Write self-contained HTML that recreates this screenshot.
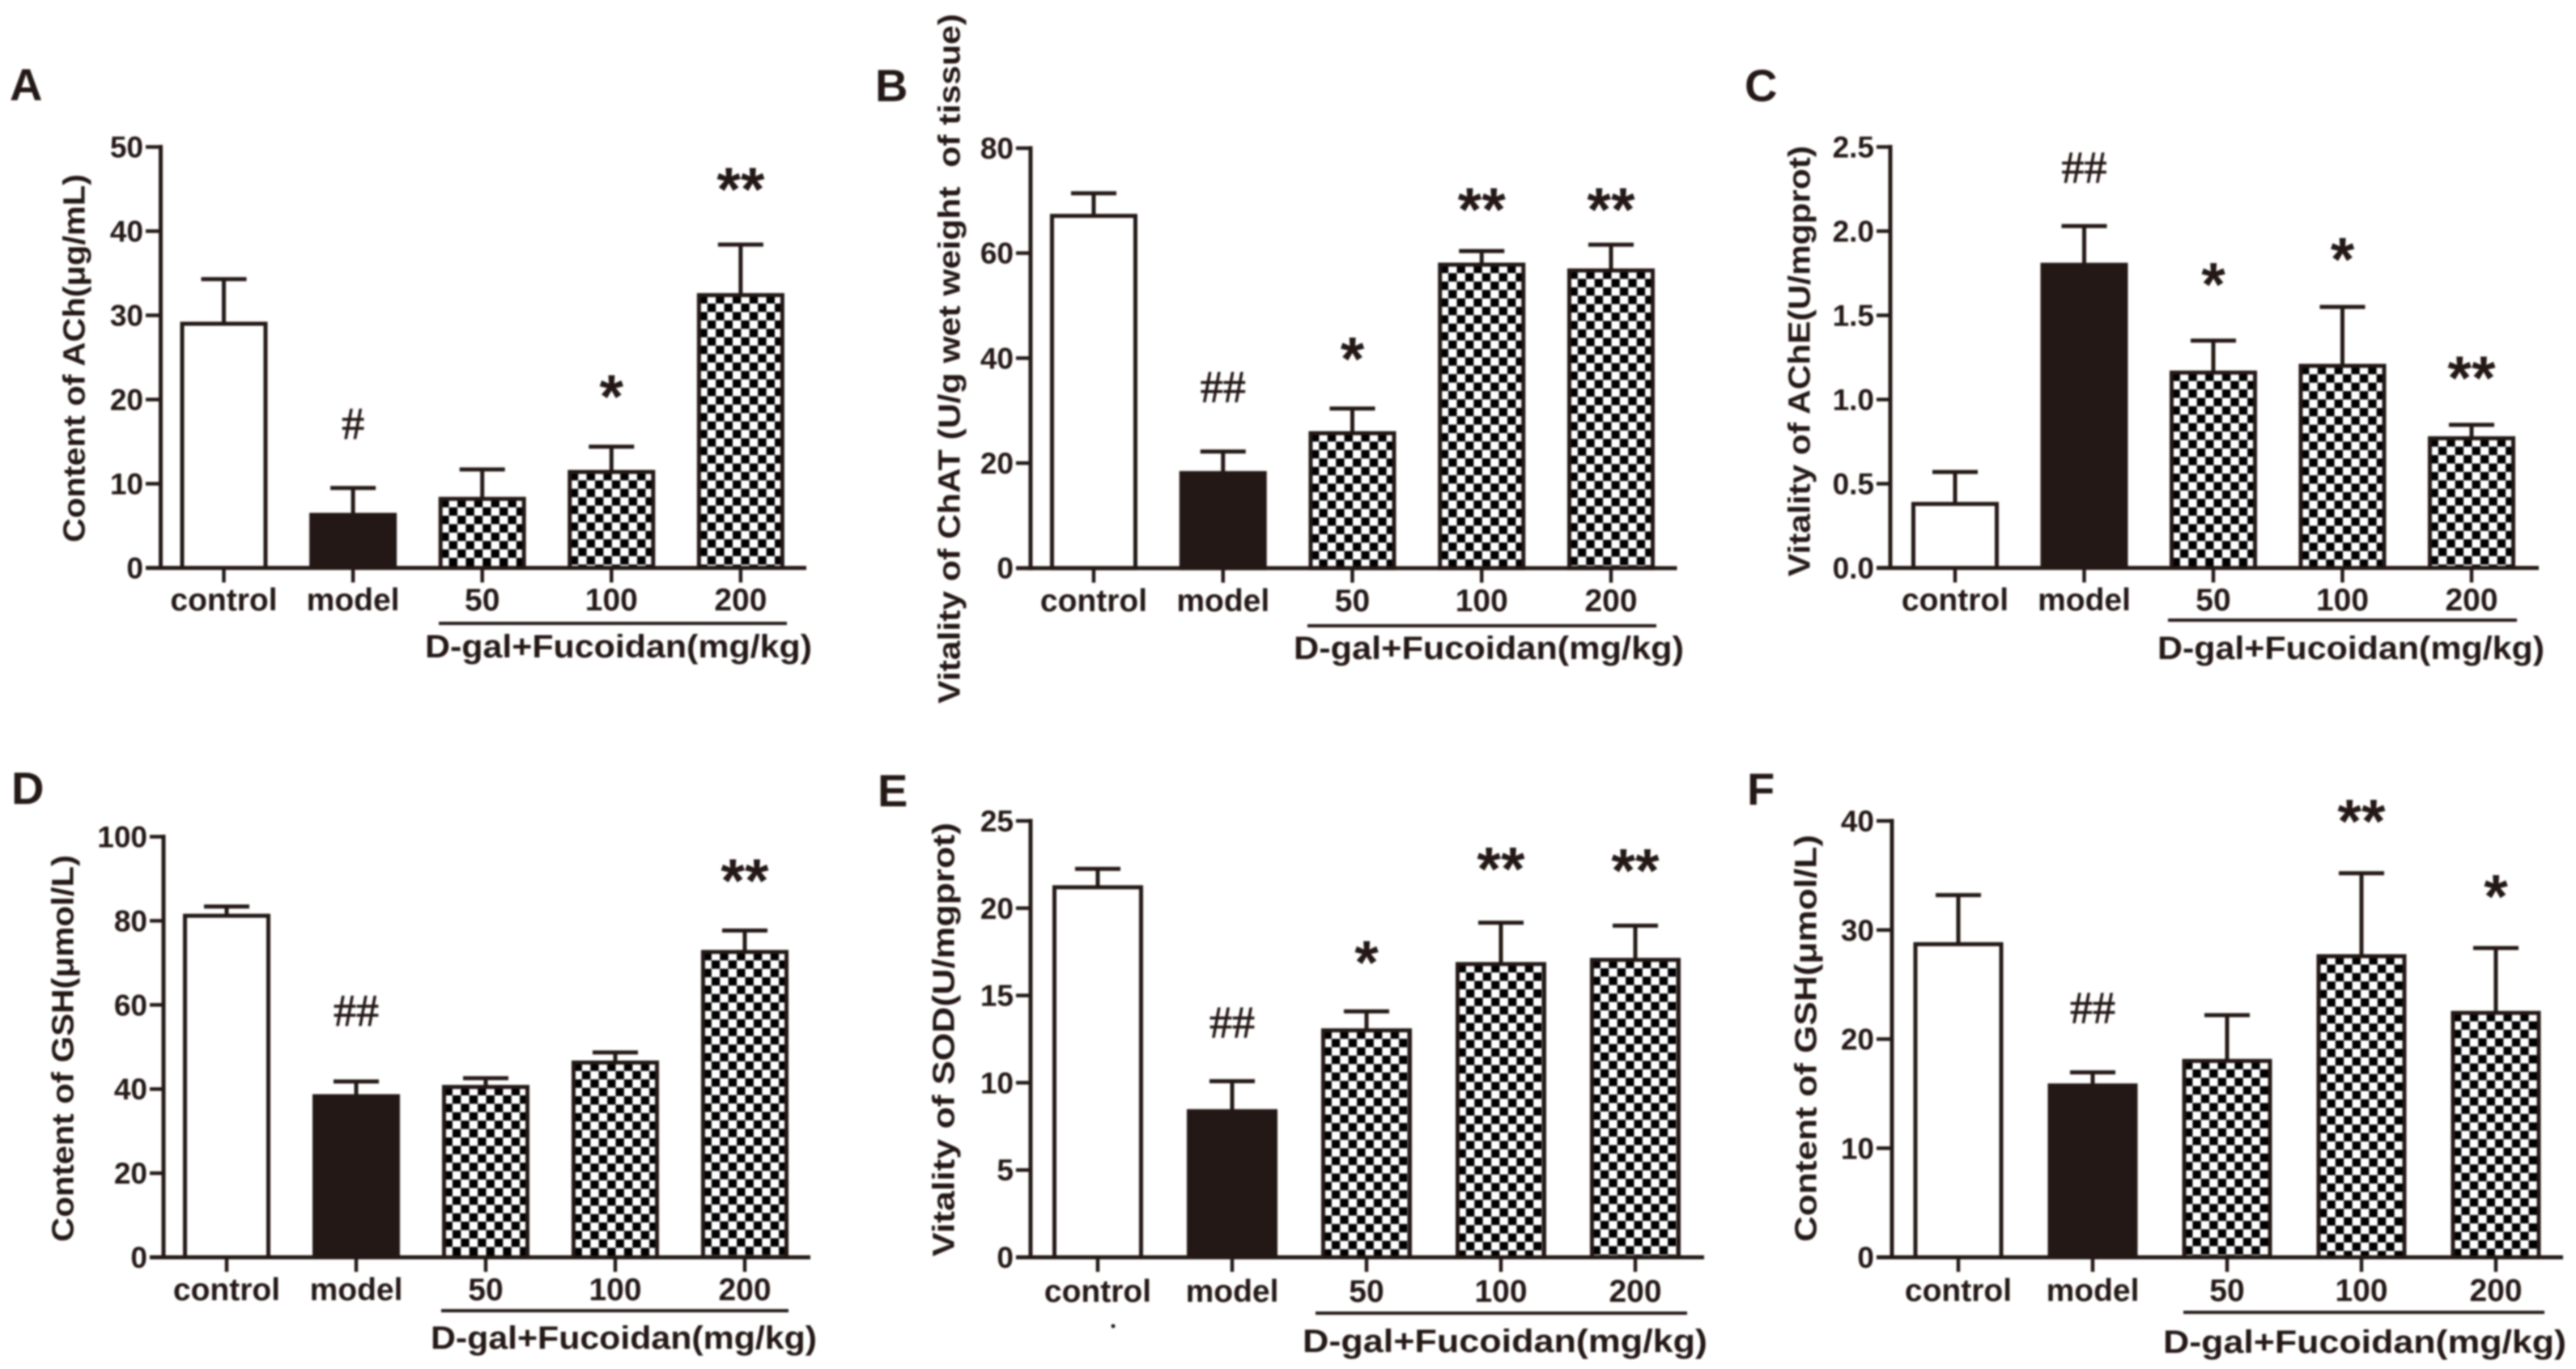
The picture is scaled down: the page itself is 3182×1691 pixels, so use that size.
<!DOCTYPE html>
<html lang="en">
<head>
<meta charset="utf-8">
<title>Fucoidan bar charts</title>
<style>
html,body{margin:0;padding:0;background:#fff;}
svg{display:block;filter:blur(1px);}
text{font-family:"Liberation Sans",Arial,sans-serif;font-weight:bold;fill:#231815;white-space:pre;}
.sym{font-family:"Liberation Serif",serif;font-weight:normal;stroke:#231815;stroke-width:0.8px;}
</style>
</head>
<body>
<svg id="figure" xmlns="http://www.w3.org/2000/svg" width="3182" height="1691" viewBox="0 0 3182 1691">
<rect x="0" y="0" width="3182" height="1691" fill="#ffffff"/>
<defs id="defs"></defs>
<circle cx="1375" cy="1638" r="2.5" fill="#231815"/>
</svg>
<script>
// ---- shared categories ----
const categories = ["control", "model", "50", "100", "200"];
const groupLabel = "D-gal+Fucoidan(mg/kg)";

// ---- panel A ----
const aTicks = ["0", "10", "20", "30", "40", "50"];
const aMeans = [29, 6.3, 8.2, 11.4, 32.4];
const aUppers = [34.3, 9.5, 11.7, 14.4, 38.4];
const aSig = ["", "#", "", "*", "**"];
const aSigLevels = [0, 16.8, 0, 21.3, 45.9];

// ---- panel B ----
const bTicks = ["0", "20", "40", "60", "80"];
const bMeans = [67.1, 18.1, 25.7, 57.8, 56.7];
const bUppers = [71.4, 22.2, 30.4, 60.4, 61.6];
const bSig = ["", "##", "*", "**", "**"];
const bSigLevels = [0, 34, 41.4, 69.8, 69.8];

// ---- panel C ----
const cTicks = ["0.0", "0.5", "1.0", "1.5", "2.0", "2.5"];
const cMeans = [0.38, 1.8, 1.16, 1.2, 0.77];
const cUppers = [0.57, 2.03, 1.35, 1.55, 0.85];
const cSig = ["", "##", "*", "*", "**"];
const cSigLevels = [0, 2.36, 1.73, 1.88, 1.175];

// ---- panel D ----
const dTicks = ["0", "20", "40", "60", "80", "100"];
const dMeans = [81.2, 38.3, 40.5, 46.3, 72.6];
const dUppers = [83.4, 41.8, 42.6, 48.7, 77.7];
const dSig = ["", "##", "", "", "**"];
const dSigLevels = [0, 57.9, 0, 0, 91.4];

// ---- panel E ----
const eTicks = ["0", "5", "10", "15", "20", "25"];
const eMeans = [21.2, 8.37, 13, 16.8, 17.04];
const eUppers = [22.25, 10.09, 14.09, 19.17, 19];
const eSig = ["", "##", "*", "**", "**"];
const eSigLevels = [0, 13.3, 17.35, 22.7, 22.6];

// ---- panel F ----
const fTicks = ["0", "10", "20", "30", "40"];
const fMeans = [28.7, 15.75, 18, 27.6, 22.4];
const fUppers = [33.2, 16.95, 22.2, 35.2, 28.35];
const fSig = ["", "##", "", "**", "*"];
const fSigLevels = [0, 22.6, 0, 40.7, 33.8];

const INK = "#231815";
const NS = "http://www.w3.org/2000/svg";
const svg = document.getElementById("figure");
const defs = document.getElementById("defs");

function make(tag, attrs, parent, txt) {
  const node = document.createElementNS(NS, tag);
  for (const k in attrs) node.setAttribute(k, attrs[k]);
  if (txt !== undefined) node.textContent = txt;
  parent.appendChild(node);
  return node;
}

function drawPanel(key, layout, ticks, means, uppers, sig, sigLevels, titleText) {
  const yMax = parseFloat(ticks[ticks.length - 1]);
  const yPos = function (v) { return layout.y0 - (v / yMax) * (layout.y0 - layout.yTop); };
  const xPos = function (i) { return layout.first + i * layout.step; };

  const g = make("g", {}, svg);
  
  

  let el = make("text", { x: layout.letterX, y: layout.letterY, "font-size": 56 }, g, key.toUpperCase());
  
  

  const tMid = (layout.titleTop + layout.titleBottom) / 2;
  el = make("text", {
    x: 0, y: 0, "font-size": 38, "text-anchor": "middle", dy: ".35em",
    textLength: layout.titleBottom - layout.titleTop, lengthAdjust: "spacingAndGlyphs",
    transform: "translate(" + layout.titleX + " " + tMid + ") rotate(-90)"
  }, g, titleText);
  
  

  categories.forEach(function (cat, i) {
    const cx = xPos(i);
    const left = cx - layout.barW / 2 + 2.5;
    const w = layout.barW - 5;
    const top = yPos(means[i]);
    const capY = yPos(uppers[i]);

    el = make("line", { x1: cx, x2: cx, y1: top, y2: capY, stroke: INK, "stroke-width": 5 }, g);
    
    

    el = make("line", { x1: cx - 28, x2: cx + 28, y1: capY, y2: capY, stroke: INK, "stroke-width": 5 }, g);
    
    

    let fill = "#ffffff";
    if (i === 1) fill = INK;
    if (i > 1) {
      const pid = "chk-" + key + "-" + i;
      const p = make("pattern", { id: pid, patternUnits: "userSpaceOnUse", x: left, y: top, width: 20.8, height: 20.8 }, defs);
      make("rect", { x: 0, y: 0, width: 20.8, height: 20.8, fill: "#ffffff" }, p);
      make("rect", { x: 0, y: 0, width: 10.4, height: 10.4, fill: "#000000" }, p);
      make("rect", { x: 10.4, y: 10.4, width: 10.4, height: 10.4, fill: "#000000" }, p);
      fill = "url(#" + pid + ")";
    }
    el = make("rect", { x: left, y: top, width: w, height: layout.y0 - top, fill: fill, stroke: INK, "stroke-width": 5 }, g);
    
    

    el = make("line", { x1: cx, x2: cx, y1: layout.y0, y2: layout.y0 + 18, stroke: INK, "stroke-width": 4.5 }, g);
    
    

    el = make("text", { x: cx, y: layout.labelY + 12, "font-size": 39, "text-anchor": "middle" }, g, cat);
    
    

    if (sig[i]) {
      const isStar = sig[i].charAt(0) === "*";
      const size = isStar ? 76 : 56;
      const off = isStar ? 36 : 15;
      el = make("text", { x: cx, y: yPos(sigLevels[i]) + off, "font-size": size, "text-anchor": "middle", "class": isStar ? "" : "sym" }, g, sig[i]);
      
      
    }
  });

  el = make("line", { x1: layout.axisX, x2: layout.axisX, y1: layout.yTop - 2.5, y2: layout.y0 + 2.5, stroke: INK, "stroke-width": 5 }, g);
  
  

  el = make("line", { x1: layout.tickLeft, x2: layout.xEnd, y1: layout.y0, y2: layout.y0, stroke: INK, "stroke-width": 5 }, g);
  
  

  ticks.forEach(function (t) {
    const ty = yPos(parseFloat(t));
    el = make("line", { x1: layout.tickLeft, x2: layout.axisX, y1: ty, y2: ty, stroke: INK, "stroke-width": 4.5 }, g);
    
    

    el = make("text", { x: layout.tickLeft - 3, y: ty + 13, "font-size": 37, "text-anchor": "end" }, g, t);
    
    
  });

  el = make("line", { x1: layout.groupX1, x2: layout.groupX2, y1: layout.groupY, y2: layout.groupY, stroke: INK, "stroke-width": 4 }, g);
  
  

  el = make("text", {
    x: (layout.gtX1 + layout.gtX2) / 2, y: layout.gtY + 12, "font-size": 40, "text-anchor": "middle",
    textLength: layout.gtX2 - layout.gtX1, lengthAdjust: "spacingAndGlyphs"
  }, g, groupLabel);
  
  
}

drawPanel("a", { axisX: 198.5, yTop: 181.5, y0: 701.5, tickLeft: 180, xEnd: 996, first: 276.5, step: 159.6, barW: 108, labelY: 742, groupX1: 542, groupX2: 972, groupY: 770, gtX1: 525, gtX2: 1003, gtY: 800, titleX: 91, titleTop: 215, titleBottom: 670, letterX: 12, letterY: 124 },
  aTicks, aMeans, aUppers, aSig, aSigLevels, "Content of ACh(\u03bcg/mL)");

drawPanel("b", { axisX: 1273, yTop: 183, y0: 701.7, tickLeft: 1255, xEnd: 2071.5, first: 1351, step: 159.75, barW: 108, labelY: 743, groupX1: 1615, groupX2: 2046, groupY: 773, gtX1: 1598, gtX2: 2080, gtY: 802, titleX: 1172, titleTop: 17, titleBottom: 869, letterX: 1081, letterY: 125 },
  bTicks, bMeans, bUppers, bSig, bSigLevels, "Vitality of ChAT (U/g wet weight  of tissue)");

drawPanel("c", { axisX: 2335, yTop: 181.5, y0: 701.5, tickLeft: 2318, xEnd: 3136, first: 2415, step: 159.5, barW: 108, labelY: 742, groupX1: 2678, groupX2: 3109, groupY: 766, gtX1: 2665, gtX2: 3143, gtY: 802, titleX: 2222, titleTop: 180, titleBottom: 712, letterX: 2155, letterY: 125 },
  cTicks, cMeans, cUppers, cSig, cSigLevels, "Vitality of AChE(U/mgprot)");

drawPanel("d", { axisX: 202, yTop: 1033.5, y0: 1553, tickLeft: 185, xEnd: 1001, first: 280, step: 160, barW: 108, labelY: 1594, groupX1: 545, groupX2: 974, groupY: 1619, gtX1: 532, gtX2: 1009, gtY: 1654, titleX: 77, titleTop: 1056, titleBottom: 1534, letterX: 14, letterY: 993 },
  dTicks, dMeans, dUppers, dSig, dSigLevels, "Content of GSH(\u03bcmol/L)");

drawPanel("e", { axisX: 1273, yTop: 1014, y0: 1553, tickLeft: 1255, xEnd: 2105, first: 1356, step: 166, barW: 112, labelY: 1596, groupX1: 1625, groupX2: 2084, groupY: 1622, gtX1: 1609, gtX2: 2109, gtY: 1658, titleX: 1165, titleTop: 1016, titleBottom: 1552, letterX: 1084, letterY: 996 },
  eTicks, eMeans, eUppers, eSig, eSigLevels, "Vitality of SOD(U/mgprot)");

drawPanel("f", { axisX: 2337, yTop: 1014, y0: 1553, tickLeft: 2318, xEnd: 3166, first: 2419, step: 166, barW: 111, labelY: 1595, groupX1: 2697, groupX2: 3143, groupY: 1621, gtX1: 2672, gtX2: 3170, gtY: 1659, titleX: 2230, titleTop: 1031, titleBottom: 1534, letterX: 2158, letterY: 994 },
  fTicks, fMeans, fUppers, fSig, fSigLevels, "Content of GSH(\u03bcmol/L)");
</script>
</body>
</html>
